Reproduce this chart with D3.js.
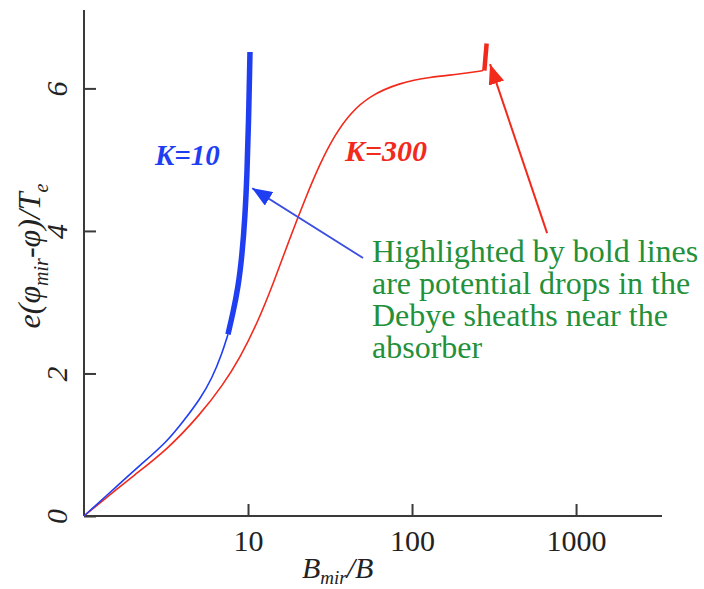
<!DOCTYPE html>
<html>
<head>
<meta charset="utf-8">
<script src="https://cdn.jsdelivr.net/npm/d3@7"></script>
<style>
  body { margin: 0; background: #fff; }
  svg { display: block; }
</style>
</head>
<body>
<svg id="chart" width="704" height="589"></svg>
<script>
// K=10 curve, thin part then the bold sheath drop
const k10Thin = [
  {b: 1, v: 0}, {b: 1.59, v: 0.42}, {b: 2.19, v: 0.71}, {b: 3.21, v: 1.04},
  {b: 4.13, v: 1.36}, {b: 5.10, v: 1.64}, {b: 6.03, v: 1.93}, {b: 6.94, v: 2.28},
  {b: 7.55, v: 2.55}
]
const k10Bold = [
  {b: 7.55, v: 2.55}, {b: 8.10, v: 2.85}, {b: 8.69, v: 3.20}, {b: 9.19, v: 3.65},
  {b: 9.59, v: 4.20}, {b: 9.86, v: 4.80}, {b: 10.07, v: 5.50}, {b: 10.28, v: 6.51}
]
// K=300 curve
const k300Thin = [
  {b: 1, v: 0}, {b: 1.44, v: 0.30}, {b: 1.99, v: 0.56}, {b: 3.21, v: 0.93},
  {b: 5.10, v: 1.42}, {b: 7.04, v: 1.84}, {b: 8.94, v: 2.22}, {b: 11.35, v: 2.70},
  {b: 14.2, v: 3.25}, {b: 18.0, v: 3.90}, {b: 22.3, v: 4.45}, {b: 27.5, v: 4.95},
  {b: 33.9, v: 5.35}, {b: 41.9, v: 5.65}, {b: 55.4, v: 5.90}, {b: 84.5, v: 6.08},
  {b: 128.8, v: 6.16}, {b: 196, v: 6.20}, {b: 271, v: 6.25}
]
const k300Bold = [{b: 276, v: 6.25}, {b: 285, v: 6.63}]

const xTicks = [10, 100, 1000]
const yTicks = [0, 2, 4, 6]
const noteLines = [
  'Highlighted by bold lines',
  'are potential drops in the',
  'Debye sheaths near the',
  'absorber'
]

const blue = '#1f3ef2'
const red = '#f22a1c'
const green = '#23903a'
const axisColor = '#3a3a3a'
const serif = '"Liberation Serif", "Times New Roman", serif'

const svg = d3.select('#chart')

const x = d3.scaleLog().domain([1, 3342]).range([84, 662])
const y = d3.scaleLinear().domain([0, 7.1]).range([516, 10])

// arrow heads
const defs = svg.append('defs')
const addHead = (id, color) => {
  defs.append('marker')
    .attr('id', id)
    .attr('markerUnits', 'userSpaceOnUse')
    .attr('markerWidth', 22).attr('markerHeight', 16)
    .attr('refX', 20).attr('refY', 8)
    .attr('orient', 'auto')
    .append('path')
    .attr('d', 'M0,0 L20,8 L0,16 Z')
    .attr('fill', color)
}
addHead('headBlue', blue)
addHead('headRed', red)

// axes
const xAxis = d3.axisBottom(x).tickValues(xTicks).tickFormat(d3.format('d'))
  .tickSizeInner(-12).tickSizeOuter(0).tickPadding(14)
const gx = svg.append('g').attr('transform', `translate(0,${y(0)})`).call(xAxis)
gx.select('.domain').attr('stroke', axisColor).attr('stroke-width', 2)
  .attr('d', `M${x(1)},0H${x.range()[1]}`)
gx.selectAll('.tick line').attr('stroke', axisColor).attr('stroke-width', 2)
gx.selectAll('.tick text').attr('fill', '#222').style('font-size', '30px')
  .style('font-family', serif)

const yAxis = d3.axisLeft(y).tickValues(yTicks).tickSizeInner(-12).tickSizeOuter(0)
const gy = svg.append('g').attr('transform', `translate(${x(1)},0)`).call(yAxis)
gy.select('.domain').attr('stroke', axisColor).attr('stroke-width', 2)
  .attr('d', `M0,${y.range()[1]}V${y(0)}`)
gy.selectAll('.tick line').attr('stroke', axisColor).attr('stroke-width', 2)
gy.selectAll('.tick text')
  .attr('x', 0).attr('y', 0).attr('dy', '0.35em')
  .attr('transform', 'translate(-28,0) rotate(-90)')
  .attr('text-anchor', 'middle')
  .attr('fill', '#222')
  .style('font-size', '30px').style('font-style', 'italic')
  .style('font-family', serif)

// curves
const line = d3.line().x(d => x(d.b)).y(d => y(d.v)).curve(d3.curveBasis)
const draw = (data, color, width) => svg.append('path')
  .datum(data)
  .attr('d', line)
  .attr('fill', 'none')
  .attr('stroke', color)
  .attr('stroke-width', width)
  .attr('stroke-linecap', 'butt')

draw(k300Thin, red, 1.6)
draw(k300Bold, red, 4.5)
draw(k10Thin, blue, 1.6)
draw(k10Bold, blue, 5.5)

// annotation arrows
svg.append('line')
  .attr('x1', x(50.3)).attr('y1', y(3.62))
  .attr('x2', x(10.6)).attr('y2', y(4.60))
  .attr('stroke', '#3a4ee0').attr('stroke-width', 1.8)
  .attr('marker-end', 'url(#headBlue)')
svg.append('line')
  .attr('x1', x(666)).attr('y1', y(3.97))
  .attr('x2', x(299)).attr('y2', y(6.34))
  .attr('stroke', red).attr('stroke-width', 2)
  .attr('marker-end', 'url(#headRed)')

// curve labels
svg.append('text')
  .attr('x', x(2.71)).attr('y', y(4.92))
  .attr('fill', blue)
  .style('font-family', serif)
  .style('font-size', '29px').style('font-weight', 'bold').style('font-style', 'italic')
  .text('K=10')
svg.append('text')
  .attr('x', x(39)).attr('y', y(4.98))
  .attr('fill', red)
  .style('font-family', serif)
  .style('font-size', '30px').style('font-weight', 'bold').style('font-style', 'italic')
  .text('K=300')

// note
svg.append('text')
  .attr('fill', green)
  .style('font-family', serif)
  .style('font-size', '32px')
  .selectAll('tspan')
  .data(noteLines)
  .join('tspan')
  .attr('x', x(57))
  .attr('y', (d, i) => y(3.56) + i * 32)
  .text(d => d)

// axis titles
const xt = svg.append('text')
  .attr('x', 302).attr('y', 578)
  .attr('fill', '#222')
  .style('font-family', serif)
  .style('font-size', '30px').style('font-style', 'italic')
xt.append('tspan').text('B')
xt.append('tspan').attr('dy', 6).style('font-size', '19px').text('mir')
xt.append('tspan').attr('dy', -6).text('/B')

const yt = svg.append('text')
  .attr('transform', 'translate(40,256) rotate(-90)')
  .attr('text-anchor', 'middle')
  .attr('fill', '#222')
  .style('font-family', serif)
  .style('font-size', '32px').style('font-style', 'italic')
yt.append('tspan').text('e(φ')
yt.append('tspan').attr('dy', 8).style('font-size', '20px').text('mir')
yt.append('tspan').attr('dy', -8).text('-φ)/T')
yt.append('tspan').attr('dy', 8).style('font-size', '20px').text('e')
</script>
</body>
</html>
